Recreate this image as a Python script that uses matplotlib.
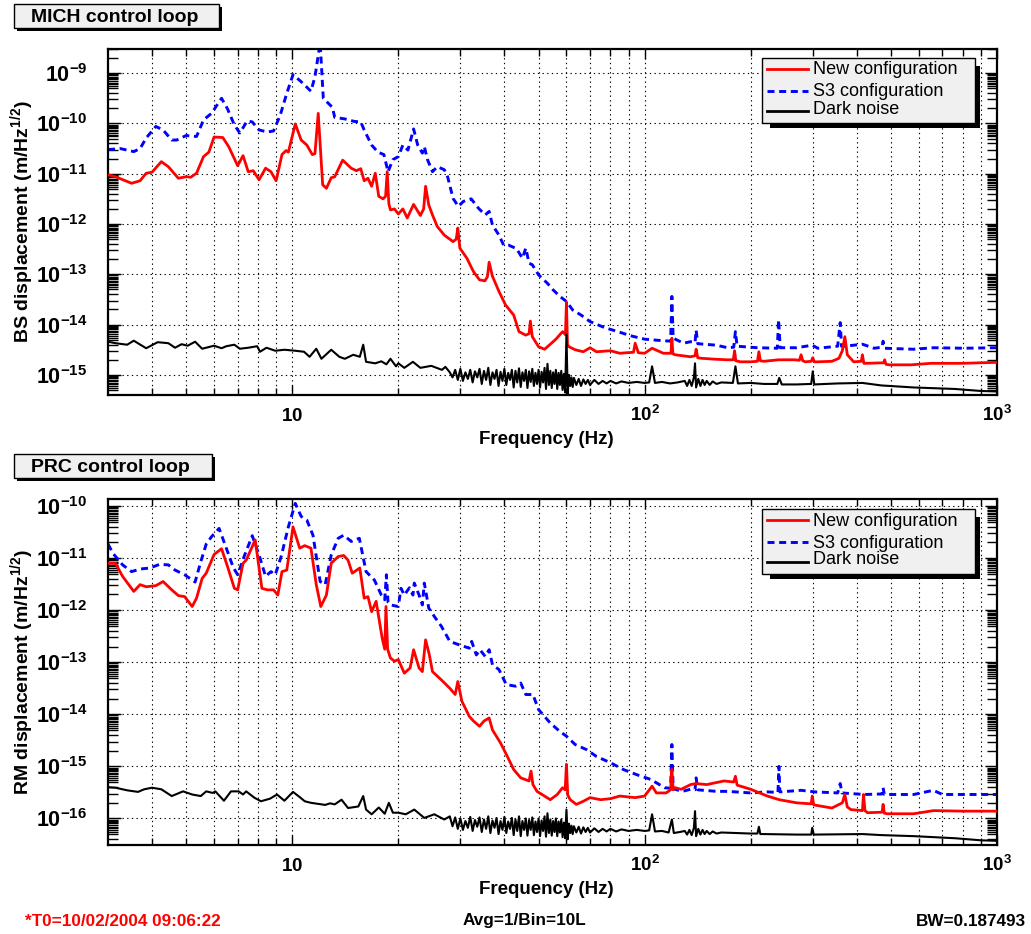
# PLOT
# MICH / PRC control loop displacement spectra, ROOT-like look

import numpy as np
import matplotlib
matplotlib.use('Agg')
from matplotlib import pyplot as plt
from matplotlib.ticker import FixedLocator, NullFormatter, FuncFormatter
from matplotlib.patches import Rectangle
from matplotlib.lines import Line2D

plt.rcParams['font.family'] = ['Liberation Sans', 'DejaVu Sans']
plt.rcParams['mathtext.fontset'] = 'custom'
plt.rcParams['mathtext.rm'] = 'Liberation Sans:bold'
plt.rcParams['mathtext.it'] = 'Liberation Sans:bold'
plt.rcParams['mathtext.bf'] = 'Liberation Sans:bold'

W, H = 1031, 934

# ---- data: (frequency Hz, log10 displacement) ----
mich_new = [(3.0, -11.02), (3.15, -11.06), (3.5, -11.19), (3.7, -11.14), (3.85, -10.99), (4.0, -10.97),
            (4.25, -10.76), (4.45, -10.86), (4.75, -11.09), (5.0, -11.06), (5.15, -11.07), (5.35, -10.99),
            (5.6, -10.66), (5.8, -10.57), (6.0, -10.27), (6.35, -10.28), (6.6, -10.46), (7.0, -10.84),
            (7.25, -10.64), (7.5, -10.96), (7.75, -10.94), (8.05, -11.12), (8.4, -10.89), (8.7, -10.96),
            (9.0, -11.14), (9.35, -10.62), (9.6, -10.54), (9.75, -10.57), (10.2, -10.01), (10.6, -10.33),
            (11.0, -10.43), (11.4, -10.62), (11.6, -10.60), (11.85, -9.80), (12.2, -11.22), (12.5, -11.29),
            (12.9, -11.08), (13.2, -11.06), (13.9, -10.73), (14.7, -10.89), (15.2, -10.94), (15.65, -10.90),
            (16.0, -11.14), (16.4, -11.09), (16.8, -11.25), (17.2, -10.99), (17.6, -11.45), (18.1, -11.50),
            (18.4, -11.45), (18.6, -10.96), (18.8, -11.60), (19.0, -11.72), (19.5, -11.70), (20.0, -11.80),
            (20.6, -11.70), (21.2, -11.88), (22.1, -11.61), (23.1, -11.83), (23.6, -11.70), (23.9, -11.25),
            (24.4, -11.62), (25.0, -11.82), (25.8, -12.05), (27.0, -12.22), (28.6, -12.35), (29.2, -12.30),
            (29.5, -12.08), (29.9, -12.48), (31.3, -12.68), (32.7, -12.95), (34.0, -13.11), (35.2, -13.13),
            (35.8, -13.05), (36.2, -12.76), (37.0, -13.04), (38.6, -13.34), (40.3, -13.61), (42.5, -13.81),
            (44.0, -14.14), (46.0, -14.21), (47.0, -14.18), (47.4, -13.93), (48.0, -14.24), (50.0, -14.44),
            (52.0, -14.49), (54.0, -14.39), (56.0, -14.29), (58.5, -14.14), (59.6, -14.20), (60.0, -13.55),
            (60.4, -14.40), (61.0, -14.44), (63.5, -14.50), (67.0, -14.54), (70.0, -14.46), (73.0, -14.54),
            (80.0, -14.52), (85.0, -14.57), (93.0, -14.55), (94.0, -14.37), (96.0, -14.56), (100.0, -14.57),
            (105.0, -14.47), (113.0, -14.57), (118.8, -14.57), (119.5, -14.27), (120.3, -14.58), (122.0, -14.60),
            (135.0, -14.64), (139.0, -14.62), (140.0, -14.49), (141.5, -14.66), (145.0, -14.67), (160.0, -14.69),
            (172.0, -14.70), (178.5, -14.70), (180.0, -14.52), (181.5, -14.72), (187.0, -14.74), (200.0, -14.74),
            (209.0, -14.73), (211.0, -14.54), (213.0, -14.72), (218.0, -14.73), (240.0, -14.70), (267.0, -14.70),
            (275.0, -14.71), (278.0, -14.60), (281.0, -14.72), (286.0, -14.74), (297.0, -14.73), (300.0, -14.66),
            (303.0, -14.74), (310.0, -14.74), (340.0, -14.73), (356.0, -14.67), (364.0, -14.52), (370.0, -14.24),
            (376.0, -14.60), (392.0, -14.74), (412.0, -14.73), (415.0, -14.60), (419.0, -14.77), (424.0, -14.77),
            (477.0, -14.76), (480.0, -14.70), (484.0, -14.79), (495.0, -14.80), (570.0, -14.80), (650.0, -14.77),
            (800.0, -14.77), (1000.0, -14.75)]

mich_s3 = [(3.0, -10.52), (3.25, -10.50), (3.55, -10.56), (3.7, -10.50), (3.85, -10.29), (4.1, -10.06),
           (4.3, -10.13), (4.55, -10.33), (4.7, -10.33), (5.0, -10.24), (5.35, -10.26), (5.6, -9.93),
           (5.9, -9.80), (6.3, -9.50), (6.55, -9.71), (6.85, -10.03), (7.1, -10.19), (7.45, -9.95),
           (7.7, -9.97), (8.05, -10.13), (8.5, -10.17), (8.85, -10.15), (9.25, -9.83), (9.65, -9.40),
           (10.05, -9.03), (10.6, -9.17), (11.3, -9.36), (11.6, -9.07), (12.0, -8.40), (12.25, -9.50),
           (13.0, -9.68), (13.2, -9.88), (14.1, -9.91), (15.0, -9.96), (15.65, -9.97), (16.0, -10.13),
           (16.8, -10.43), (17.5, -10.57), (18.2, -10.62), (18.7, -10.96), (19.3, -10.72), (20.0, -10.66),
           (20.6, -10.43), (21.3, -10.53), (22.1, -10.11), (22.7, -10.43), (23.4, -10.59), (23.7, -10.46),
           (24.2, -10.72), (25.0, -10.96), (25.8, -10.86), (27.0, -10.92), (27.6, -11.06), (28.6, -11.49),
           (29.6, -11.65), (30.6, -11.55), (32.2, -11.50), (33.8, -11.69), (35.3, -11.82), (36.2, -11.75),
           (37.0, -12.02), (38.6, -12.22), (39.8, -12.42), (41.1, -12.42), (43.3, -12.49), (45.0, -12.68),
           (46.0, -12.48), (47.0, -12.78), (48.0, -12.81), (50.0, -13.01), (53.0, -13.18), (55.0, -13.31),
           (57.5, -13.44), (60.0, -13.54), (62.5, -13.71), (66.0, -13.81), (70.0, -13.94), (77.0, -14.06),
           (84.0, -14.14), (91.0, -14.22), (100.0, -14.29), (108.0, -14.31), (118.5, -14.33), (119.5, -13.44),
           (120.5, -14.27), (129.0, -14.37), (135.0, -14.34), (139.0, -14.36), (140.0, -14.11), (141.5, -14.38),
           (160.0, -14.41), (172.0, -14.46), (179.0, -14.45), (181.0, -14.14), (183.0, -14.43), (209.0, -14.46),
           (238.0, -14.47), (240.0, -13.90), (242.5, -14.46), (270.0, -14.46), (299.0, -14.41), (310.0, -14.47),
           (353.0, -14.43), (359.0, -13.96), (362.0, -14.43), (370.0, -14.43), (415.0, -14.39), (448.0, -14.47),
           (472.0, -14.45), (475.0, -14.33), (479.0, -14.47), (580.0, -14.49), (660.0, -14.46), (805.0, -14.47),
           (1000.0, -14.46)]

mich_dark = [(3.0, -14.34), (3.15, -14.37), (3.4, -14.40), (3.55, -14.32), (3.85, -14.47), (4.15, -14.35),
             (4.45, -14.37), (4.65, -14.46), (4.85, -14.39), (5.05, -14.42), (5.3, -14.34), (5.55, -14.48),
             (6.0, -14.42), (6.3, -14.47), (6.5, -14.43), (6.85, -14.40), (7.1, -14.48), (7.5, -14.46),
             (7.95, -14.43), (8.1, -14.54), (8.45, -14.46), (8.95, -14.52), (9.5, -14.50), (10.2, -14.52),
             (10.8, -14.54), (11.2, -14.64), (11.7, -14.48), (12.1, -14.68), (12.9, -14.50), (13.6, -14.64),
             (14.1, -14.68), (14.9, -14.60), (15.55, -14.64), (15.9, -14.40), (16.2, -14.74), (17.2, -14.77),
             (17.9, -14.73), (18.5, -14.79), (19.0, -14.68), (19.7, -14.83), (20.0, -14.77), (20.8, -14.86),
             (22.0, -14.74), (23.1, -14.86), (24.8, -14.82), (26.6, -14.90), (27.2, -14.84), (28.0, -14.95),
             (28.5, -15.05), (29.0, -14.90), (29.5, -15.10), (30.0, -14.88), (30.5, -15.12), (31.0, -14.95),
             (31.5, -15.08), (32.0, -14.90), (32.5, -15.15), (33.0, -14.93), (33.5, -15.05), (34.0, -14.88),
             (34.5, -15.18), (35.0, -14.92), (35.5, -15.10), (36.0, -14.86), (36.5, -15.20), (37.0, -14.95),
             (37.5, -15.08), (38.0, -14.90), (38.5, -15.22), (39.0, -14.94), (39.5, -15.12), (40.0, -14.88),
             (40.5, -15.20), (41.0, -14.96), (41.5, -15.10), (42.0, -14.90), (42.5, -15.25), (43.0, -14.92),
             (43.5, -15.15), (44.0, -14.87), (44.5, -15.24), (45.0, -14.95), (45.5, -15.12), (46.0, -14.90),
             (46.5, -15.26), (47.0, -14.93), (47.5, -15.14), (48.0, -14.88), (48.5, -15.22), (49.0, -14.96),
             (49.5, -15.18), (50.0, -14.90), (50.5, -15.25), (51.0, -14.94), (51.5, -15.15), (52.0, -14.86),
             (52.5, -15.28), (53.0, -14.78), (53.5, -15.20), (54.0, -14.92), (54.5, -15.26), (55.0, -14.95),
             (55.5, -15.18), (56.0, -14.90), (56.5, -15.28), (57.0, -14.96), (57.5, -15.20), (58.0, -14.92),
             (58.5, -15.30), (59.0, -14.98), (59.5, -15.35), (60.0, -14.20), (60.5, -15.38), (61.0, -15.00),
             (61.5, -15.22), (62.0, -15.05), (62.5, -15.24), (63.0, -15.06), (64.0, -15.20), (65.0, -15.08),
             (66.0, -15.22), (67.0, -15.09), (68.0, -15.18), (69.0, -15.10), (70.0, -15.20), (72.0, -15.10),
             (74.0, -15.18), (76.0, -15.12), (78.0, -15.17), (80.0, -15.12), (83.0, -15.17), (86.0, -15.13),
             (90.0, -15.16), (95.0, -15.14), (100.0, -15.16), (103.0, -15.15), (105.0, -14.83), (107.0, -15.16),
             (112.0, -15.14), (118.0, -15.17), (124.0, -15.15), (130.0, -15.12), (132.0, -15.22), (134.0, -15.10),
             (136.0, -15.22), (138.0, -15.05), (139.0, -14.77), (140.0, -15.25), (142.0, -15.08), (144.0, -15.22),
             (146.0, -15.10), (148.0, -15.20), (150.0, -15.12), (153.0, -15.20), (156.0, -15.13), (160.0, -15.18),
             (165.0, -15.15), (178.0, -15.16), (181.0, -14.83), (184.0, -15.17), (200.0, -15.16), (218.0, -15.18),
             (238.0, -15.18), (241.0, -15.06), (245.0, -15.19), (270.0, -15.19), (297.0, -15.18), (300.0, -14.93),
             (303.0, -15.19), (353.0, -15.17), (415.0, -15.16), (470.0, -15.21), (580.0, -15.25), (760.0, -15.28),
             (900.0, -15.32), (1000.0, -15.33)]

prc_new = [(3.0, -11.10), (3.15, -11.10), (3.3, -11.35), (3.55, -11.64), (3.7, -11.51), (3.85, -11.55),
           (4.1, -11.53), (4.3, -11.45), (4.55, -11.61), (4.75, -11.72), (4.95, -11.74), (5.2, -11.93),
           (5.35, -11.77), (5.55, -11.39), (5.7, -11.29), (6.0, -10.93), (6.3, -10.82), (6.55, -11.16),
           (6.85, -11.58), (7.0, -11.61), (7.25, -11.10), (7.4, -11.04), (7.85, -10.65), (8.2, -11.58),
           (8.5, -11.61), (8.85, -11.61), (9.1, -11.71), (9.35, -11.26), (9.65, -11.23), (10.05, -10.40),
           (10.5, -10.81), (10.85, -10.76), (11.3, -10.81), (11.7, -11.51), (12.05, -11.93), (12.5, -11.71),
           (12.9, -11.10), (13.5, -10.97), (14.0, -10.95), (14.4, -11.04), (14.8, -11.29), (15.55, -11.19),
           (16.0, -11.77), (16.4, -11.74), (16.8, -12.03), (17.3, -11.83), (18.0, -12.54), (18.3, -12.75),
           (18.45, -11.93), (18.65, -12.75), (19.0, -12.92), (19.5, -12.98), (20.0, -12.95), (20.8, -13.21),
           (21.6, -13.11), (22.1, -12.76), (22.9, -13.11), (23.4, -13.18), (23.9, -12.57), (24.5, -12.86),
           (25.0, -13.18), (26.5, -13.34), (28.0, -13.50), (29.0, -13.62), (29.5, -13.37), (30.3, -13.75),
           (31.8, -14.04), (32.7, -14.13), (34.0, -14.23), (35.0, -14.13), (36.2, -14.07), (37.0, -14.30),
           (39.0, -14.55), (40.5, -14.77), (42.5, -15.06), (44.5, -15.22), (47.0, -15.28), (47.6, -15.09),
           (48.2, -15.35), (49.5, -15.48), (52.0, -15.57), (54.0, -15.64), (56.5, -15.54), (58.5, -15.41),
           (59.5, -15.45), (60.0, -14.96), (60.5, -15.55), (61.5, -15.64), (64.0, -15.73), (67.0, -15.67),
           (70.0, -15.60), (75.0, -15.64), (80.0, -15.62), (85.0, -15.57), (94.0, -15.60), (100.0, -15.57),
           (105.0, -15.38), (108.0, -15.51), (115.0, -15.51), (118.5, -15.45), (119.5, -15.06), (120.5, -15.45),
           (122.0, -15.41), (127.0, -15.44), (135.0, -15.35), (140.0, -15.33), (150.0, -15.35), (168.0, -15.28),
           (179.0, -15.30), (181.0, -15.19), (183.0, -15.36), (187.0, -15.38), (200.0, -15.44), (223.0, -15.57),
           (241.0, -15.64), (270.0, -15.70), (297.0, -15.72), (299.0, -15.57), (302.0, -15.74), (340.0, -15.80),
           (364.0, -15.70), (370.0, -15.54), (376.0, -15.78), (385.0, -15.83), (415.0, -15.85), (418.0, -15.54),
           (422.0, -15.85), (429.0, -15.89), (472.0, -15.88), (475.0, -15.73), (479.0, -15.90), (489.0, -15.91),
           (580.0, -15.91), (660.0, -15.85), (805.0, -15.86), (1000.0, -15.86)]

prc_s3 = [(3.0, -10.73), (3.1, -10.91), (3.3, -11.13), (3.5, -11.26), (3.7, -11.21), (3.95, -11.19),
          (4.2, -11.12), (4.45, -11.13), (4.65, -11.23), (4.95, -11.32), (5.3, -11.46), (5.5, -11.07),
          (5.7, -10.73), (5.9, -10.59), (6.2, -10.43), (6.5, -10.81), (6.8, -11.18), (7.0, -11.32),
          (7.3, -10.97), (7.7, -10.57), (8.05, -10.94), (8.4, -11.35), (8.7, -11.26), (8.95, -11.32),
          (9.3, -10.97), (9.75, -10.40), (10.2, -9.95), (10.6, -10.20), (11.0, -10.27), (11.45, -10.56),
          (12.0, -11.45), (12.4, -11.51), (12.9, -10.94), (13.5, -10.62), (14.0, -10.56), (14.7, -10.68),
          (15.5, -10.62), (16.2, -11.26), (17.1, -11.42), (17.9, -11.71), (18.3, -11.80), (18.5, -11.32),
          (18.7, -11.85), (19.0, -11.90), (20.0, -11.93), (20.35, -11.58), (20.8, -11.71), (21.5, -11.57),
          (22.0, -11.71), (22.2, -11.48), (22.9, -11.71), (23.4, -11.90), (23.7, -11.48), (24.4, -11.96),
          (25.3, -12.12), (26.5, -12.31), (28.0, -12.60), (29.6, -12.66), (31.8, -12.73), (32.3, -12.60),
          (33.3, -12.86), (34.1, -12.76), (35.3, -12.89), (36.2, -12.76), (37.0, -13.05), (38.6, -13.14),
          (40.5, -13.43), (43.0, -13.46), (44.5, -13.40), (46.0, -13.62), (48.2, -13.62), (50.0, -13.91),
          (52.0, -14.04), (54.0, -14.17), (57.5, -14.33), (60.0, -14.42), (63.5, -14.58), (68.5, -14.68),
          (73.0, -14.81), (80.0, -14.93), (87.0, -15.06), (95.0, -15.16), (104.0, -15.25), (114.0, -15.41),
          (118.5, -15.42), (119.5, -14.58), (120.5, -15.43), (122.0, -15.44), (128.0, -15.48), (135.0, -15.44),
          (139.0, -15.45), (140.0, -15.22), (141.5, -15.45), (160.0, -15.48), (172.0, -15.48), (200.0, -15.51),
          (223.0, -15.49), (239.0, -15.50), (240.5, -15.00), (242.0, -15.49), (278.0, -15.46), (304.0, -15.49),
          (353.0, -15.51), (359.0, -15.33), (363.0, -15.51), (420.0, -15.54), (472.0, -15.53), (475.0, -15.41),
          (479.0, -15.54), (580.0, -15.54), (660.0, -15.46), (700.0, -15.54), (805.0, -15.54), (1000.0, -15.54)]

prc_dark = [(3.0, -15.40), (3.15, -15.41), (3.4, -15.46), (3.65, -15.49), (3.8, -15.44), (4.0, -15.41),
            (4.25, -15.44), (4.55, -15.57), (4.9, -15.48), (5.2, -15.54), (5.5, -15.57), (5.7, -15.48),
            (5.95, -15.51), (6.05, -15.48), (6.4, -15.66), (6.7, -15.48), (7.05, -15.48), (7.25, -15.54),
            (7.4, -15.48), (7.8, -15.60), (8.15, -15.67), (8.65, -15.62), (9.05, -15.54), (9.5, -15.66),
            (10.05, -15.49), (10.5, -15.59), (10.85, -15.67), (11.3, -15.70), (12.4, -15.74), (12.8, -15.71),
            (13.2, -15.73), (13.8, -15.64), (14.4, -15.80), (15.4, -15.77), (15.9, -15.57), (16.2, -15.83),
            (16.8, -15.92), (17.6, -15.79), (18.3, -15.91), (18.8, -15.70), (19.3, -15.89), (20.0, -15.89),
            (21.0, -15.92), (22.2, -15.83), (23.7, -15.99), (25.3, -15.92), (27.0, -16.02), (28.0, -15.96),
            (28.5, -16.15), (29.0, -15.98), (29.5, -16.20), (30.0, -16.00), (30.5, -16.22), (31.0, -16.05),
            (31.5, -16.18), (32.0, -15.97), (32.5, -16.24), (33.0, -16.03), (33.5, -16.16), (34.0, -15.98),
            (34.5, -16.26), (35.0, -16.02), (35.5, -16.20), (36.0, -15.96), (36.5, -16.28), (37.0, -16.04),
            (37.5, -16.18), (38.0, -15.99), (38.5, -16.30), (39.0, -16.05), (39.5, -16.22), (40.0, -15.97),
            (40.5, -16.28), (41.0, -16.06), (41.5, -16.20), (42.0, -15.99), (42.5, -16.32), (43.0, -16.02),
            (43.5, -16.24), (44.0, -15.96), (44.5, -16.34), (45.0, -16.05), (45.5, -16.22), (46.0, -16.00),
            (46.5, -16.33), (47.0, -16.03), (47.5, -16.22), (48.0, -15.98), (48.5, -16.32), (49.0, -16.06),
            (49.5, -16.26), (50.0, -16.00), (50.5, -16.34), (51.0, -16.04), (51.5, -16.24), (52.0, -15.96),
            (52.5, -16.35), (53.0, -15.90), (53.5, -16.28), (54.0, -16.02), (54.5, -16.33), (55.0, -16.05),
            (55.5, -16.26), (56.0, -16.00), (56.5, -16.34), (57.0, -16.06), (57.5, -16.27), (58.0, -16.02),
            (58.5, -16.36), (59.0, -16.08), (59.5, -16.38), (60.0, -15.83), (60.5, -16.40), (61.0, -16.10),
            (61.5, -16.28), (62.0, -16.14), (62.5, -16.30), (63.0, -16.15), (64.0, -16.27), (65.0, -16.16),
            (66.0, -16.29), (67.0, -16.17), (68.0, -16.26), (69.0, -16.18), (70.0, -16.27), (72.0, -16.19),
            (74.0, -16.26), (76.0, -16.20), (78.0, -16.25), (80.0, -16.20), (83.0, -16.25), (86.0, -16.21),
            (90.0, -16.24), (95.0, -16.22), (100.0, -16.24), (103.0, -16.23), (105.0, -15.92), (107.0, -16.25),
            (112.0, -16.24), (117.0, -16.27), (119.5, -16.02), (121.0, -16.28), (126.0, -16.26), (130.0, -16.24),
            (132.0, -16.31), (134.0, -16.22), (136.0, -16.32), (138.0, -16.18), (139.0, -15.86), (140.0, -16.34),
            (142.0, -16.20), (144.0, -16.31), (146.0, -16.22), (148.0, -16.30), (150.0, -16.24), (153.0, -16.30),
            (156.0, -16.25), (160.0, -16.29), (165.0, -16.27), (200.0, -16.29), (209.0, -16.29), (211.0, -16.16),
            (213.0, -16.30), (218.0, -16.30), (270.0, -16.31), (297.0, -16.31), (299.0, -16.18), (302.0, -16.31),
            (415.0, -16.30), (470.0, -16.32), (580.0, -16.34), (760.0, -16.38), (900.0, -16.42), (1000.0, -16.43)]

legend_labels = ['New configuration', 'S3 configuration', 'Dark noise']
x_range = (3.0, 1000.0)
mich_ylim = (10 ** -15.39, 10 ** -8.51)
prc_ylim = (10 ** -16.51, 10 ** -9.865)
mich_decades = [-15, -14, -13, -12, -11, -10, -9]
prc_decades = [-16, -15, -14, -13, -12, -11, -10]

RED, BLUE, BLACK = '#ff0000', '#0000ff', '#000000'
BLUE_DASH = (0, (2.4, 1.6))


def fx(px):
    return px / W


def fy(py):
    return 1 - py / H


def to_xy(pairs):
    arr = np.array(pairs)
    return arr[:, 0], 10.0 ** arr[:, 1]


def xfmt(v, pos):
    if v == 10:
        return '$10$'
    return '$10^{%d}$' % int(round(np.log10(v)))


def yfmt(v, pos):
    return '$10^{%d}$' % int(round(np.log10(v)))


def draw_panel(ax, new, s3, dark, ylim, decades, ylabel):
    ax.plot(*to_xy(s3), color=BLUE, lw=2.1, ls=BLUE_DASH, zorder=2)
    ax.plot(*to_xy(new), color=RED, lw=2.0, zorder=3)
    ax.plot(*to_xy(dark), color=BLACK, lw=1.5, zorder=4)
    ax.set_xscale('log')
    ax.set_yscale('log')
    ax.set_xlim(*x_range)
    ax.set_ylim(*ylim)

    # ROOT style: decade labels, dense sub-ticks
    ymaj = [10.0 ** k for k in decades]
    subs = [2, 3, 4, 5, 5.5, 6, 6.5, 7, 7.5, 8, 8.5, 9, 9.5]
    ymin = [s * 10.0 ** k for k in range(decades[0] - 1, decades[-1] + 1) for s in subs]
    ymin = [v for v in ymin if ylim[0] <= v <= ylim[1]]
    ax.yaxis.set_major_locator(FixedLocator(ymaj))
    ax.yaxis.set_minor_locator(FixedLocator(ymin))
    ax.yaxis.set_major_formatter(FuncFormatter(yfmt))
    ax.yaxis.set_minor_formatter(NullFormatter())

    ax.xaxis.set_major_locator(FixedLocator([10.0, 100.0, 1000.0]))
    xmin = [s * 10.0 ** k for k in range(0, 3) for s in range(2, 10)]
    xmin = [v for v in xmin if v > x_range[0]]
    ax.xaxis.set_minor_locator(FixedLocator(xmin))
    ax.xaxis.set_major_formatter(FuncFormatter(xfmt))
    ax.xaxis.set_minor_formatter(NullFormatter())

    ax.set_axisbelow(True)
    ax.grid(True, which='major', axis='both', color='k', lw=0.8, ls=(0, (1.2, 3.0)))
    ax.grid(True, which='minor', axis='x', color='k', lw=0.8, ls=(0, (1.2, 3.0)))

    ax.tick_params(which='both', direction='in', top=True, right=True, width=1.0, color='k')
    ax.tick_params(axis='y', which='major', length=9, labelsize=15.5, pad=15)
    ax.tick_params(axis='y', which='minor', length=7)
    ax.tick_params(axis='x', which='major', length=7, labelsize=13.5, pad=19)
    ax.tick_params(axis='x', which='minor', length=5)
    for t in ax.get_xticklabels():
        t.set_verticalalignment('baseline')
    for sp in ax.spines.values():
        sp.set_linewidth(1.6)

    ax.set_ylabel(ylabel, fontsize=14, fontweight='bold')
    ax.yaxis.set_label_coords(-0.081, 0.5)
    ax.set_xlabel('Frequency (Hz)', fontsize=13.5, fontweight='bold', va='top')
    ax.xaxis.set_label_coords(0.4927, -0.105)


def title_box(fig, text, x0, y0, x1, y1):
    fig.add_artist(Rectangle((fx(x0 + 3), fy(y1 + 3)), fx(x1) - fx(x0), fy(y0) - fy(y1),
                             transform=fig.transFigure, facecolor='k', edgecolor='k', lw=0))
    fig.add_artist(Rectangle((fx(x0), fy(y1)), fx(x1) - fx(x0), fy(y0) - fy(y1),
                             transform=fig.transFigure, facecolor='#f0f0f0', edgecolor='k', lw=1.0))
    fig.text(fx(x0 + 17), fy((y0 + y1) / 2 + 1), text, fontsize=14, fontweight='bold',
             ha='left', va='center', zorder=5)


def legend_box(fig, top):
    # shadow, box, then sample lines and labels (pixel layout from the picture)
    fig.add_artist(Rectangle((fx(770), fy(top + 70)), fx(980) - fx(770), fy(top + 8) - fy(top + 70),
                             transform=fig.transFigure, facecolor='k', lw=0))
    fig.add_artist(Rectangle((fx(762), fy(top + 65)), fx(975) - fx(762), fy(top) - fy(top + 65),
                             transform=fig.transFigure, facecolor='#f0f0f0', edgecolor='k', lw=1.0))
    styles = [dict(color=RED, lw=2.0), dict(color=BLUE, lw=2.1, ls=BLUE_DASH), dict(color=BLACK, lw=2.0)]
    rows = [top + 11, top + 33, top + 53]
    text_rows = [top + 12, top + 34, top + 51]
    for lab, st, ry, ty in zip(legend_labels, styles, rows, text_rows):
        fig.add_artist(Line2D([fx(767), fx(808)], [fy(ry), fy(ry)], transform=fig.transFigure, **st))
        fig.text(fx(813), fy(ty), lab, fontsize=13, ha='left', va='center')


fig = plt.figure(figsize=(W / 100, H / 100), dpi=100)
ax1 = fig.add_axes([fx(108), fy(394.5), fx(997) - fx(108), fy(48.5) - fy(394.5)])
ax2 = fig.add_axes([fx(108), fy(845), fx(997) - fx(108), fy(499) - fy(845)])

draw_panel(ax1, mich_new, mich_s3, mich_dark, mich_ylim, mich_decades, r'BS displacement (m/Hz$^{1/2}$)')
draw_panel(ax2, prc_new, prc_s3, prc_dark, prc_ylim, prc_decades, r'RM displacement (m/Hz$^{1/2}$)')

title_box(fig, 'MICH control loop', 14, 4, 219, 28)
title_box(fig, 'PRC control loop', 14, 454, 212, 478)
legend_box(fig, 58)
legend_box(fig, 509)

fig.text(fx(25), fy(921), '*T0=10/02/2004 09:06:22', color=RED, fontsize=12.3, fontweight='bold',
         ha='left', va='center')
fig.text(fx(463), fy(921), 'Avg=1/Bin=10L', fontsize=12.3, fontweight='bold', ha='left', va='center')
fig.text(fx(916), fy(921), 'BW=0.187493', fontsize=12.3, fontweight='bold', ha='left', va='center')

fig.savefig('out.png', dpi=100)
